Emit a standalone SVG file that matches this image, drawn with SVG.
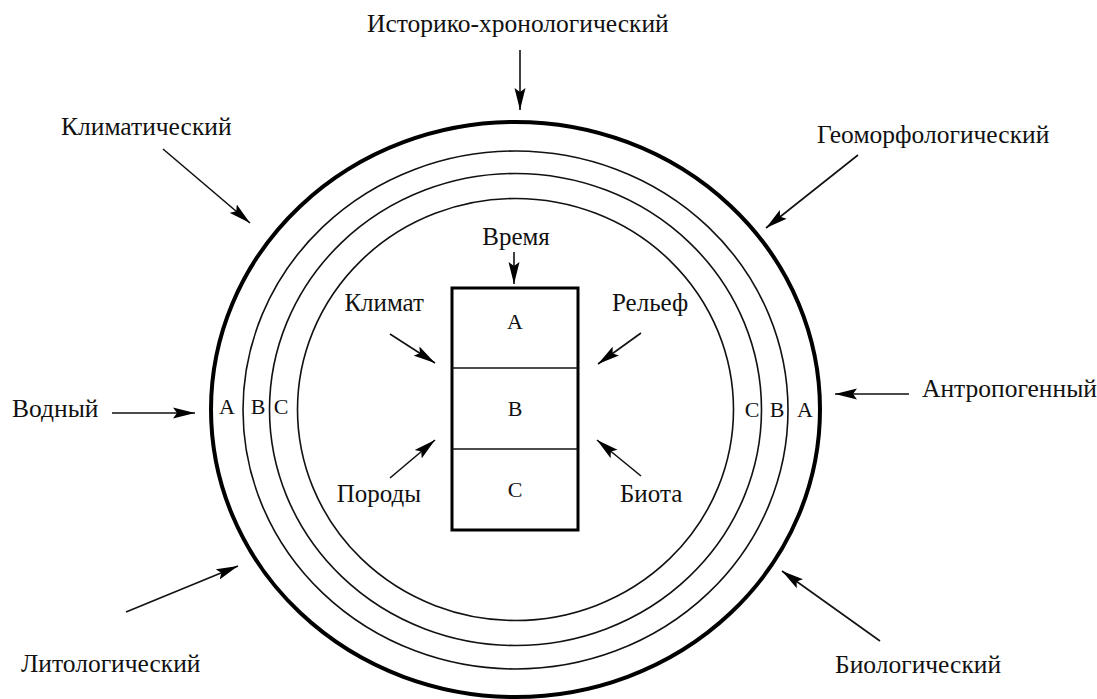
<svg xmlns="http://www.w3.org/2000/svg" width="1097" height="699" viewBox="0 0 1097 699">
<style>
.lbl{font-family:"Liberation Serif","Times New Roman",serif;font-size:25.5px;fill:#111}
.in{font-family:"Liberation Serif","Times New Roman",serif;font-size:25px;fill:#111}
.let{font-family:"Liberation Serif","Times New Roman",serif;font-size:22px;fill:#111}
.ring{fill:none;stroke:#111;stroke-width:1.6}
.outer{fill:none;stroke:#000;stroke-width:4}
.arr{stroke:#111;stroke-width:1.6;fill:none;marker-end:url(#ah)}
</style>
<defs>
<marker id="ah" markerUnits="userSpaceOnUse" markerWidth="24" markerHeight="12" refX="22" refY="6" orient="auto">
<path d="M0,0.5 L22,6 L0,11.5 L4,6 z" fill="#000"/>
</marker>
</defs>
<rect width="1097" height="699" fill="#fff"/>
<g id="rings">
<ellipse class="outer" cx="515.5" cy="409.5" rx="304.5" ry="287.5"/>
<ellipse class="ring" cx="515.5" cy="410" rx="272.5" ry="259"/>
<ellipse class="ring" cx="515.5" cy="409.5" rx="246" ry="236"/>
<ellipse class="ring" cx="515.5" cy="409.5" rx="218" ry="211"/>
</g>
<g id="ring-labels" class="let">
<text x="227" y="414" text-anchor="middle">A</text>
<text x="258" y="414" text-anchor="middle">B</text>
<text x="281" y="414" text-anchor="middle">C</text>
<text x="752" y="417" text-anchor="middle">C</text>
<text x="777" y="417" text-anchor="middle">B</text>
<text x="805" y="417" text-anchor="middle">A</text>
</g>
<g id="box">
<rect x="452" y="288" width="126" height="242" fill="none" stroke="#000" stroke-width="3"/>
<line x1="452" y1="368" x2="578" y2="368" stroke="#111" stroke-width="1.6"/>
<line x1="452" y1="449" x2="578" y2="449" stroke="#111" stroke-width="1.6"/>
<text class="let" x="515" y="329" text-anchor="middle">A</text>
<text class="let" x="515" y="416" text-anchor="middle">B</text>
<text class="let" x="515" y="497" text-anchor="middle">C</text>
</g>
<g id="outer-labels" class="lbl">
<text x="367" y="32">Историко-хронологический</text>
<text x="61" y="135">Климатический</text>
<text x="817" y="143">Геоморфологический</text>
<text x="12" y="417">Водный</text>
<text x="922" y="397">Антропогенный</text>
<text x="21" y="672">Литологический</text>
<text x="835" y="673">Биологический</text>
</g>
<g id="inner-labels" class="in">
<text x="516" y="245" text-anchor="middle">Время</text>
<text x="424" y="311" text-anchor="end">Климат</text>
<text x="612" y="311">Рельеф</text>
<text x="421" y="502" text-anchor="end">Породы</text>
<text x="620" y="502">Биота</text>
</g>
<g id="connectors">
<line class="arr" x1="520" y1="50" x2="520" y2="110"/>
<line class="arr" x1="163" y1="149" x2="250" y2="223"/>
<line class="arr" x1="858" y1="155" x2="766" y2="228"/>
<line class="arr" x1="112" y1="413" x2="195" y2="413"/>
<line class="arr" x1="909" y1="394" x2="835" y2="394"/>
<line class="arr" x1="126" y1="612" x2="238" y2="566"/>
<line class="arr" x1="880" y1="641" x2="782" y2="571"/>
<line class="arr" x1="514" y1="252" x2="514" y2="284"/>
<line class="arr" x1="390" y1="334" x2="435" y2="363"/>
<line class="arr" x1="641" y1="333" x2="598" y2="364"/>
<line class="arr" x1="390" y1="478" x2="435" y2="440"/>
<line class="arr" x1="641" y1="476" x2="597" y2="440"/>
</g>
</svg>
